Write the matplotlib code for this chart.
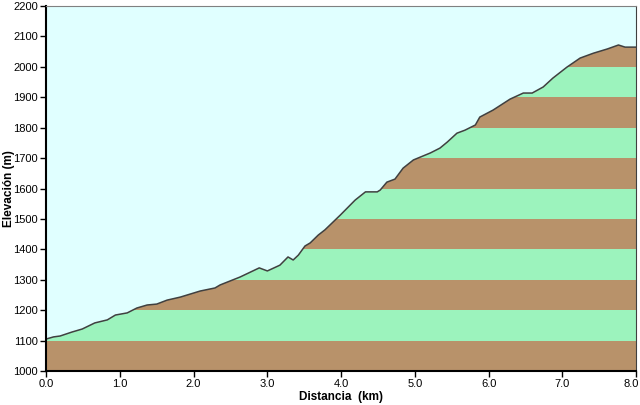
import numpy as np
import matplotlib.pyplot as plt
import matplotlib.transforms as mtransforms
from matplotlib.patches import Polygon

plt.rcParams['font.family'] = ['Liberation Sans', 'DejaVu Sans']

# perfil (km, m)
distancia = [0.0, 0.1, 0.19, 0.35, 0.49, 0.66, 0.83, 0.94, 1.1, 1.23, 1.37, 1.5,
             1.64, 1.82, 2.09, 2.29, 2.36, 2.63, 2.89, 3.0, 3.17, 3.28, 3.35, 3.42,
             3.51, 3.58, 3.69, 3.78, 3.99, 4.19, 4.33, 4.49, 4.53, 4.62, 4.73, 4.84,
             4.98, 5.11, 5.21, 5.34, 5.44, 5.57, 5.68, 5.82, 5.88, 6.06, 6.29, 6.47,
             6.59, 6.74, 6.87, 7.06, 7.24, 7.42, 7.61, 7.76, 7.85, 8.0]
elevacion = [1105, 1112, 1115, 1128, 1138, 1158, 1168, 1184, 1191, 1207, 1217, 1220,
             1233, 1243, 1263, 1273, 1283, 1309, 1339, 1329, 1348, 1375, 1365, 1381,
             1411, 1421, 1447, 1464, 1513, 1562, 1589, 1589, 1595, 1621, 1631, 1667,
             1694, 1707, 1717, 1733, 1753, 1782, 1792, 1809, 1835, 1858, 1894, 1914,
             1914, 1934, 1963, 1999, 2029, 2045, 2059, 2072, 2065, 2065]

bandas = list(range(1000, 2200, 100))
yticks = list(range(1000, 2300, 100))
xticks = [0, 1, 2, 3, 4, 5, 6, 7, 8]

marron = '#b8926a'
verde = '#9cf3bd'
cielo = '#e0ffff'

fig = plt.figure(figsize=(6.4, 4.05), dpi=100)
ax = fig.add_axes([0.072, 0.084, 0.922, 0.901])
ax.set_facecolor(cielo)

d = np.array(distancia)
e = np.array(elevacion)
verts = np.column_stack([np.r_[d, d[-1], d[0]], np.r_[e, 1000, 1000]])
perfil = Polygon(verts, closed=True, facecolor='none', edgecolor='none')
ax.add_patch(perfil)

for i, b in enumerate(bandas):
    col = marron if i % 2 == 0 else verde
    bars = ax.bar(4, 100, width=8, bottom=b, color=col, linewidth=0)
    for p in bars:
        p.set_clip_path(perfil)

ax.plot(d, e, color='#404040', lw=1.1)

ax.set_xlim(0, 8)
ax.set_ylim(1000, 2200)
ax.set_xticks(xticks)
ax.set_xticklabels([f'{v:.1f}' for v in xticks])
ax.set_yticks(yticks)
ax.tick_params(labelsize=8, length=4, width=1, direction='out', pad=2)

# la ultima etiqueta un poco a la izquierda para que no se corte
ultima = ax.get_xticklabels()[-1]
ultima.set_transform(ultima.get_transform() +
                     mtransforms.ScaledTranslation(-5 / 100, 0, fig.dpi_scale_trans))

for s in ['left', 'bottom']:
    ax.spines[s].set_linewidth(1.5)
    ax.spines[s].set_color('black')
ax.spines['top'].set_color('#808080')
ax.spines['right'].set_color('#404040')

ax.set_xlabel('Distancia  (km)', fontsize=8.5, fontweight='bold', labelpad=1)
ax.set_ylabel('Elevación (m)', fontsize=8.5, fontweight='bold', labelpad=0)
ax.yaxis.set_label_coords(-0.052, 0.5)

fig.savefig('out.png', dpi=100)
